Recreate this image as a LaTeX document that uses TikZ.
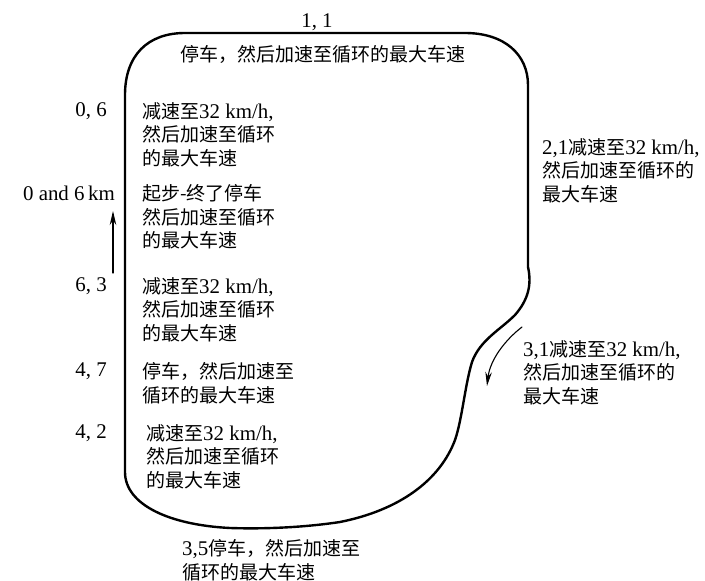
\documentclass[tikz,border=0pt]{standalone}
\usepackage{fontspec}
\setmainfont{Noto Sans CJK SC}
\newfontfamily\lat{Liberation Serif}[Scale=1.1]
\usetikzlibrary{arrows.meta}

\begin{document}
\begin{tikzpicture}[line cap=round, x=1pt, y=-1pt,
    route/.style={line width=2.4pt, line join=round},
    pointer/.style={line width=1.1pt, -{Stealth[length=14pt, width=6.5pt]}},
    txt/.style={anchor=north west, inner sep=0pt, align=left, font=\fontsize{19}{23.8}\selectfont},
    num/.style={anchor=east, inner sep=0pt, font=\lat\fontsize{19}{23.8}\selectfont}]

    \useasboundingbox (0,0) rectangle (705,581);

    % the route
    \draw[route] (125,472) -- (125,95)
        .. controls (125,55) and (148,33) .. (185,33) -- (465,33)
        .. controls (505,33) and (528,55) .. (528,85) -- (528,267)
        .. controls (532,285) and (528,300) .. (515,315)
        .. controls (500,330) and (480,340) .. (472,362)
        .. controls (465,385) and (462,420) .. (455,440)
        .. controls (440,480) and (400,510) .. (340,522)
        .. controls (300,528) and (260,529) .. (230,528)
        .. controls (170,525) and (125,505) .. (125,472) -- cycle;

    % direction arrows
    \coordinate (upS) at (113,273);
    \coordinate (upE) at (113,211);
    \draw[pointer] (upS) -- (upE);
    \coordinate (dnS) at (522,327);
    \coordinate (dnE) at (487,386);
    \draw[pointer] (dnS) .. controls (505,340) and (490,360) .. (dnE);

    % distances on the left
    \foreach \name/\y/\t in {n06/111/{0, 6}, n63/286/{6, 3}, n47/371/{4, 7}, n42/433/{4, 2}} {
        \node[num] (\name) at (107,\y) {\t};
    }
    \node[num] (n00) at (115,193) {0 and 6\,km};
    \node[num, anchor=center] (n11) at (317,22) {1, 1};

    % events
    \node[txt] (e11) at (180,45) {停车，然后加速至循环的最大车速};
    \node[txt] (e06) at (142,102) {减速至{\lat 32 km/h,}\\然后加速至循环\\的最大车速};
    \node[txt] (e00) at (142,184) {起步-终了停车\\然后加速至循环\\的最大车速};
    \node[txt] (e63) at (142,277) {减速至{\lat 32 km/h,}\\然后加速至循环\\的最大车速};
    \node[txt] (e47) at (142,362) {停车，然后加速至\\循环的最大车速};
    \node[txt] (e42) at (146,424) {减速至{\lat 32 km/h,}\\然后加速至循环\\的最大车速};
    \node[txt] (e35) at (182,539) {{\lat 3,5}停车，然后加速至\\循环的最大车速};
    \node[txt] (e21) at (542,138) {{\lat 2,1}减速至{\lat 32 km/h,}\\然后加速至循环的\\最大车速};
    \node[txt] (e31) at (523,340) {{\lat 3,1}减速至{\lat 32 km/h,}\\然后加速至循环的\\最大车速};

\end{tikzpicture}
\end{document}
